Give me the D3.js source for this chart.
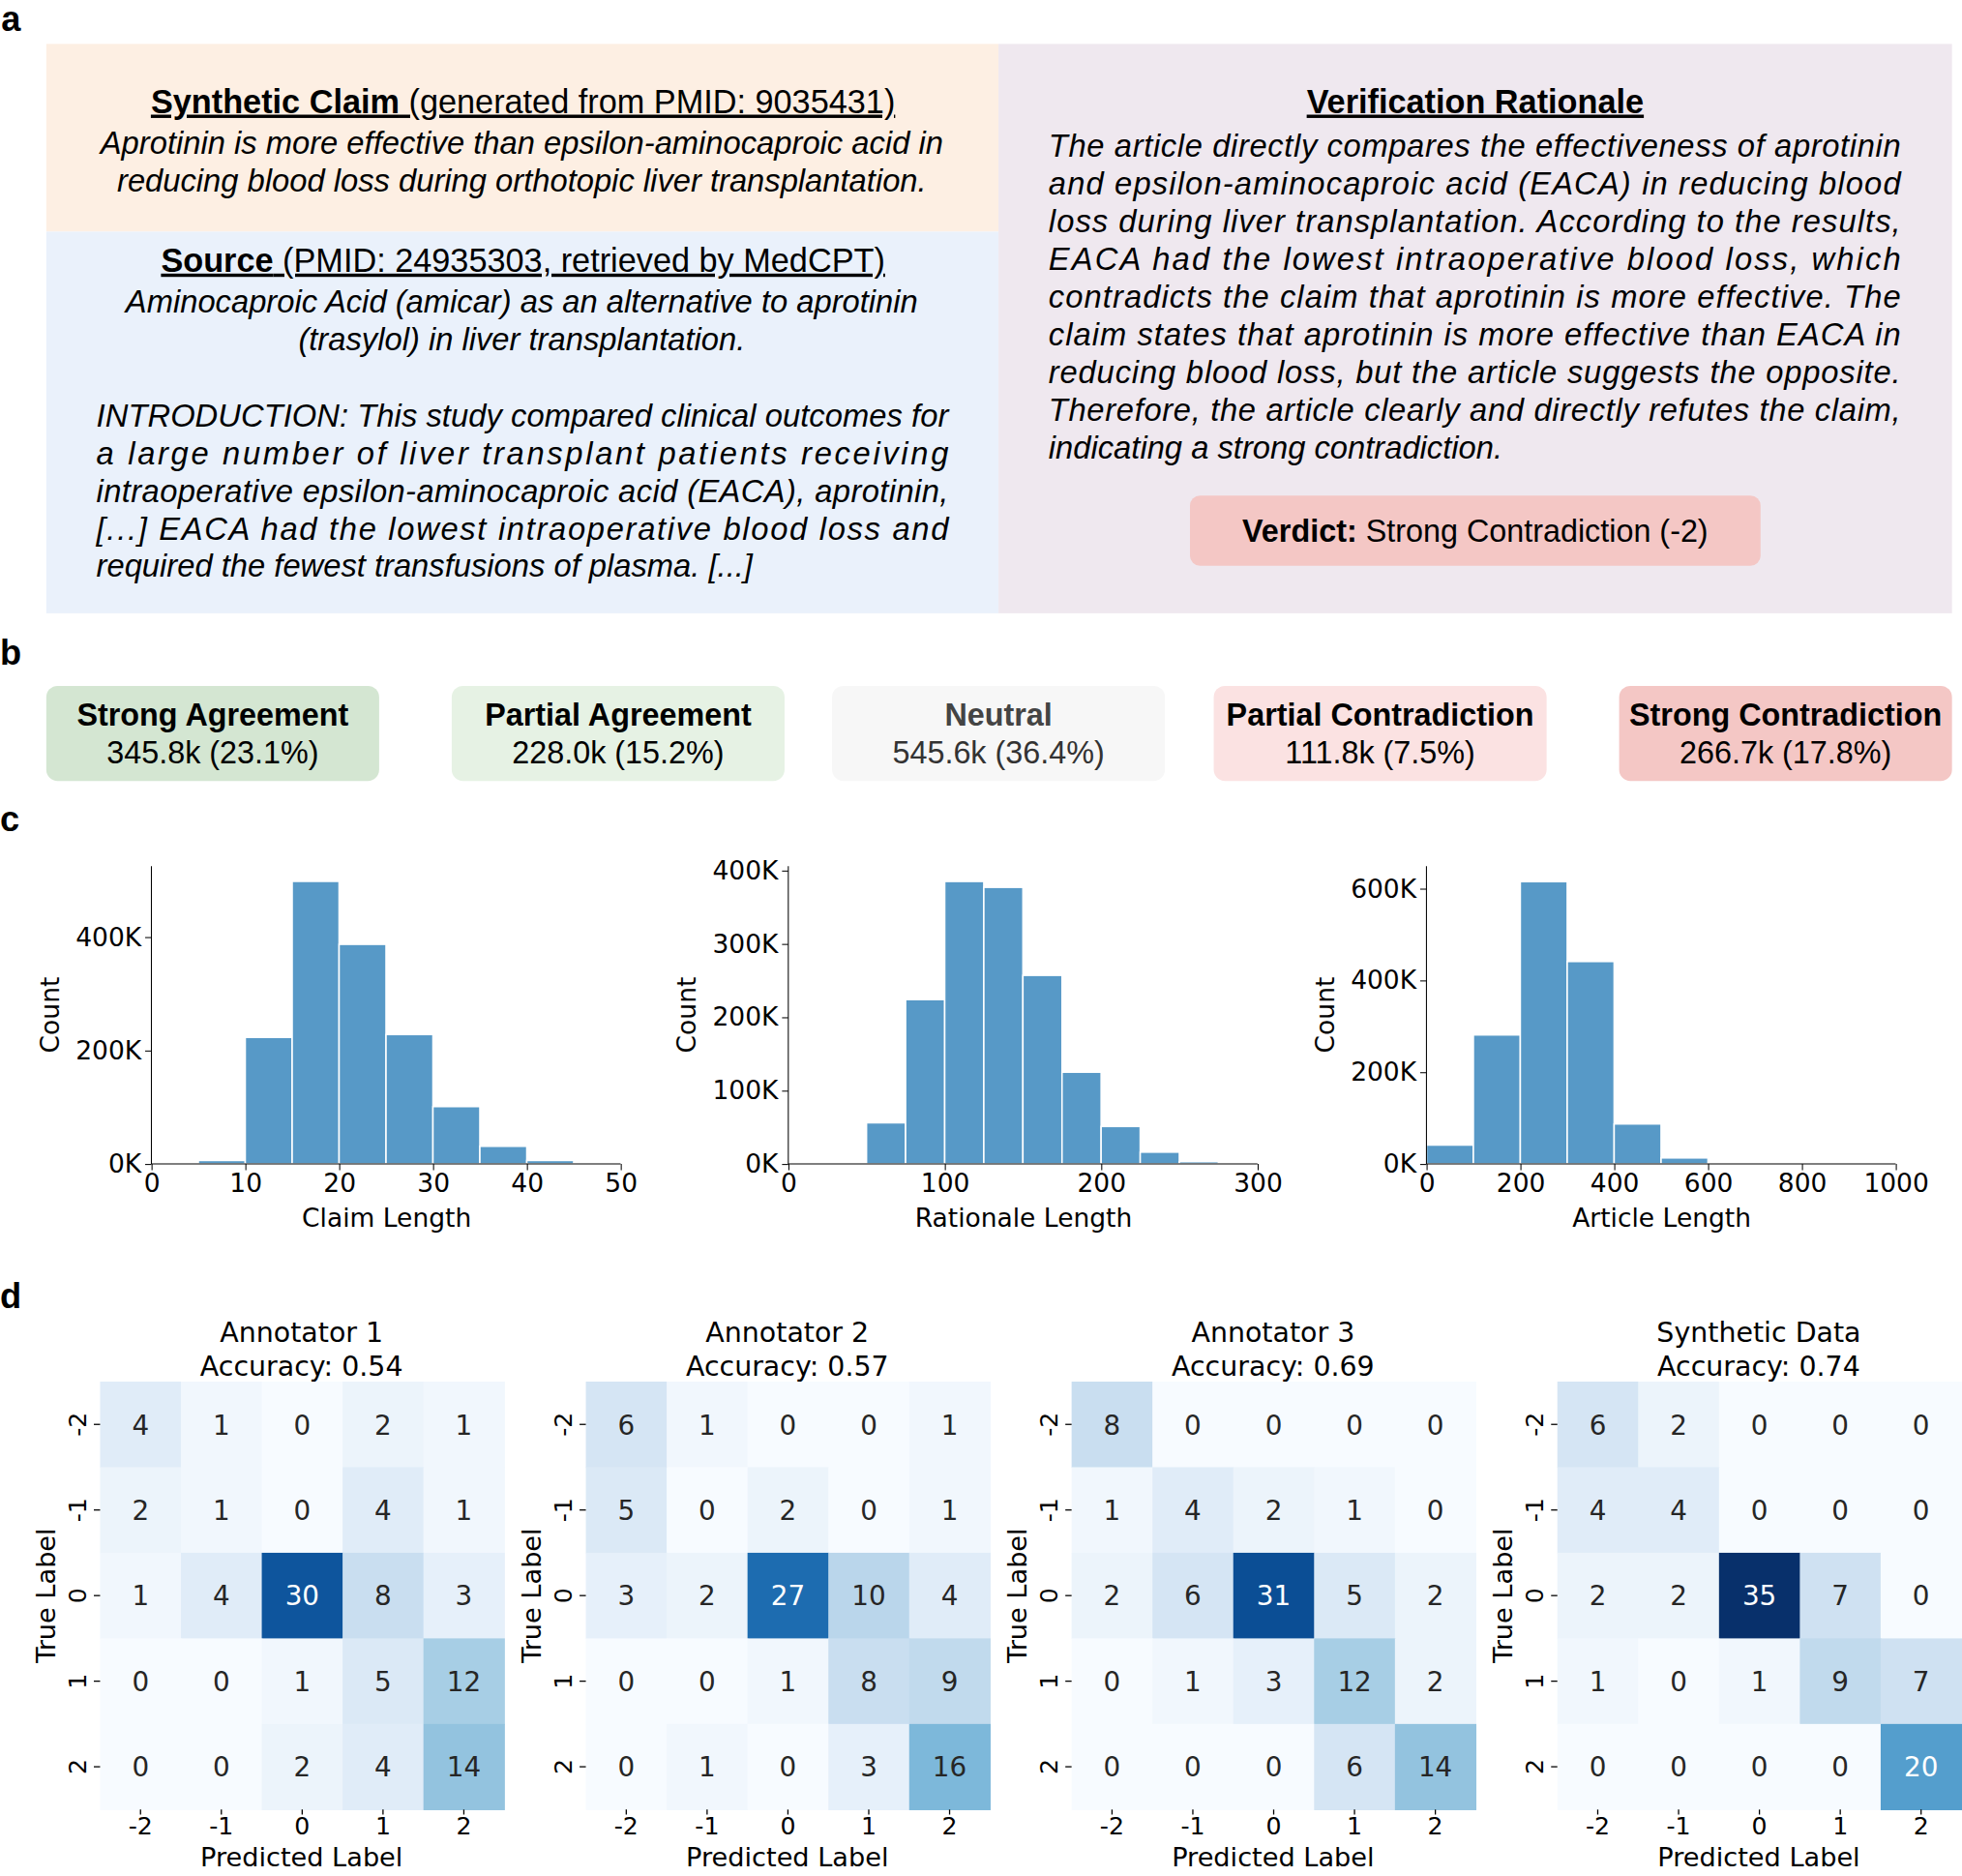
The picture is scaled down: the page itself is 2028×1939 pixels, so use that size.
<!DOCTYPE html>
<html><head><meta charset="utf-8">
<script src="https://cdn.jsdelivr.net/npm/d3@7"></script>
<style>body{margin:0;background:#fff}</style></head>
<body><svg id="c" width="2028" height="1939" viewBox="0 0 1568 1499"></svg>
<script>
// ---- data ----
const claimLines = ["Aprotinin is more effective than epsilon-aminocaproic acid in","reducing blood loss during orthotopic liver transplantation."];
const sourceLines = ["Aminocaproic Acid (amicar) as an alternative to aprotinin","(trasylol) in liver transplantation."];
const introLines = ["INTRODUCTION: This study compared clinical outcomes for","a large number of liver transplant patients receiving","intraoperative epsilon-aminocaproic acid (EACA), aprotinin,","[...] EACA had the lowest intraoperative blood loss and","required the fewest transfusions of plasma. [...]"];
const rationaleLines = ["The article directly compares the effectiveness of aprotinin","and epsilon-aminocaproic acid (EACA) in reducing blood","loss during liver transplantation. According to the results,","EACA had the lowest intraoperative blood loss, which","contradicts the claim that aprotinin is more effective. The","claim states that aprotinin is more effective than EACA in","reducing blood loss, but the article suggests the opposite.","Therefore, the article clearly and directly refutes the claim,","indicating a strong contradiction."];
const verdictNames = ["Strong Agreement","Partial Agreement","Neutral","Partial Contradiction","Strong Contradiction"];
const verdictCounts = ["345.8k (23.1%)","228.0k (15.2%)","545.6k (36.4%)","111.8k (7.5%)","266.7k (17.8%)"];
const verdictColors = ["#d4e6d2","#e6f2e4","#f7f7f7","#fbe2e2","#f4c7c5"];
const claimBins = [0,5,10,15,20,25,30,35,40,45,50];
const claimCounts = [0,6,223,498,387,228,101,31,6,1];
const ratBins = [0,25,50,75,100,125,150,175,200,225,250,275,300];
const ratCounts = [0,2,56,224,385,377,257,125,51,16,3,0.5];
const artBins = [0,100,200,300,400,500,600,700,800,900,1000];
const artCounts = [41,281,615,441,87,13,1,0.5,0.3,0.3];
const labels = ["-2","-1","0","1","2"];
const cmTitles = ["Annotator 1","Annotator 2","Annotator 3","Synthetic Data"];
const cmAcc = ["0.54","0.57","0.69","0.74"];
const cm1 = [[4,1,0,2,1],[2,1,0,4,1],[1,4,30,8,3],[0,0,1,5,12],[0,0,2,4,14]];
const cm2 = [[6,1,0,0,1],[5,0,2,0,1],[3,2,27,10,4],[0,0,1,8,9],[0,1,0,3,16]];
const cm3 = [[8,0,0,0,0],[1,4,2,1,0],[2,6,31,5,2],[0,1,3,12,2],[0,0,0,6,14]];
const cm4 = [[6,2,0,0,0],[4,4,0,0,0],[2,2,35,7,0],[1,0,1,9,7],[0,0,0,0,20]];

const svg = d3.select("#c");
const SANS = "'Liberation Sans', Arial, sans-serif";
const DJ = "'DejaVu Sans', sans-serif";
function lbl(t,x,y){svg.append("text").attr("x",x).attr("y",y).attr("font-family",SANS).attr("font-weight","bold").attr("font-size",28).text(t);}
lbl("a",1,25);lbl("b",0,531);lbl("c",0,664);lbl("d",0,1045);

// ---- panel a ----
svg.append("rect").attr("x",37).attr("y",35).attr("width",761).attr("height",150).attr("fill","#fdefe3");
svg.append("rect").attr("x",37).attr("y",185).attr("width",761).attr("height",305).attr("fill","#eaf1fb");
svg.append("rect").attr("x",798).attr("y",35).attr("width",762).attr("height",455).attr("fill","#efe8ef");
function head(cx,y,b,rest){
  const t=svg.append("text").attr("x",cx).attr("y",y).attr("text-anchor","middle").attr("font-family",SANS).attr("font-size",26.5).attr("text-decoration","underline");
  t.append("tspan").attr("font-weight","bold").text(b);
  if(rest) t.append("tspan").text(rest);
}
function lines(arr,x,y0,dy,opts){
  arr.forEach((s,i)=>{
    const t=svg.append("text").attr("y",y0+i*dy).attr("font-family",SANS).attr("font-size",25.3).attr("font-style","italic").text(s);
    if(opts.center){t.attr("x",x).attr("text-anchor","middle");}
    else{t.attr("x",x); if(i<arr.length-1) t.attr("textLength",opts.w).attr("lengthAdjust","spacing");}
  });
}
head(418,90,"Synthetic Claim"," (generated from PMID: 9035431)");
lines(claimLines,417,123,30,{center:true});
head(418,217,"Source"," (PMID: 24935303, retrieved by MedCPT)");
lines(sourceLines,417,250,30,{center:true});
lines(introLines,77,341,30,{w:681});
head(1179,90,"Verification Rationale","");
lines(rationaleLines,838,125,30.2,{w:681});
svg.append("rect").attr("x",951).attr("y",396).attr("width",456).attr("height",56).attr("rx",8).attr("fill","#f4c7c5");
const vt=svg.append("text").attr("x",1179).attr("y",433).attr("text-anchor","middle").attr("font-family",SANS).attr("font-size",25);
vt.append("tspan").attr("font-weight","bold").text("Verdict:");vt.append("tspan").text(" Strong Contradiction (-2)");

// ---- panel b ----
const bx=[37,361,665,970,1294];
verdictNames.forEach((n,i)=>{
  svg.append("rect").attr("x",bx[i]).attr("y",548).attr("width",266).attr("height",76).attr("rx",9).attr("fill",verdictColors[i]);
  svg.append("text").attr("x",bx[i]+133).attr("y",580).attr("text-anchor","middle").attr("font-family",SANS).attr("font-weight","bold").attr("font-size",25).attr("fill",i==2?"#444":"#000").text(n);
  svg.append("text").attr("x",bx[i]+133).attr("y",610).attr("text-anchor","middle").attr("font-family",SANS).attr("font-size",25).attr("fill",i==2?"#333":"#000").text(verdictCounts[i]);
});

// ---- panel c ----
function hist(x0,bins,counts,ymax,yt,xt,xl){
  const x=d3.scaleLinear().domain([bins[0],bins[bins.length-1]]).range([x0,x0+375]);
  const y=d3.scaleLinear().domain([0,ymax]).range([930,692]);
  const g=svg.append("g");
  counts.forEach((c,i)=>{
    g.append("rect").attr("x",x(bins[i])).attr("width",x(bins[i+1])-x(bins[i])).attr("y",y(c)).attr("height",930-y(c)).attr("fill","#5799c7").attr("stroke","#fff").attr("stroke-width",1.2);
  });
  const ya=svg.append("g").attr("transform",`translate(${x0},0)`).call(d3.axisLeft(y).tickValues(yt).tickFormat(d=>d+"K").tickSize(5).tickPadding(3));
  const xa=svg.append("g").attr("transform","translate(0,930)").call(d3.axisBottom(x).tickValues(xt).tickFormat(d=>String(d)).tickSize(5).tickPadding(3));
  [ya,xa].forEach(a=>{a.selectAll("text").attr("font-family",DJ).attr("font-size",20.5).attr("fill","#000");a.selectAll("path,line").attr("stroke","#000").attr("stroke-width",0.8);});
  xa.select(".domain").attr("d",`M${x0},0H${x0+375}`);
  ya.select(".domain").attr("d",`M0,930V692`);
  svg.append("text").attr("transform",`translate(${x0-74},811) rotate(-90)`).attr("text-anchor","middle").attr("font-family",DJ).attr("font-size",20.5).text("Count");
  svg.append("text").attr("x",x0+188).attr("y",980).attr("text-anchor","middle").attr("font-family",DJ).attr("font-size",20.5).text(xl);
}
hist(121,claimBins,claimCounts,525,[0,200,400],[0,10,20,30,40,50],"Claim Length");
hist(630,ratBins,ratCounts,406,[0,100,200,300,400],[0,100,200,300],"Rationale Length");
hist(1140,artBins,artCounts,649,[0,200,400,600],[0,200,400,600,800,1000],"Article Length");

// ---- panel d ----
const color=d3.scaleSequential(d3.interpolateBlues).domain([0,35]);
const T=1104, B=1446;
[cm1,cm2,cm3,cm4].forEach((m,k)=>{
  const x0=80+k*388.2;
  const x=d3.scaleBand().domain(labels).range([x0,x0+323]);
  const y=d3.scaleBand().domain(labels).range([T,B]);
  m.forEach((row,i)=>row.forEach((v,j)=>{
    svg.append("rect").attr("x",x(labels[j])).attr("y",y(labels[i])).attr("width",x.bandwidth()+0.5).attr("height",y.bandwidth()+0.5).attr("fill",color(v));
    svg.append("text").attr("x",x(labels[j])+x.bandwidth()/2).attr("y",y(labels[i])+y.bandwidth()/2+8).attr("text-anchor","middle").attr("font-family",DJ).attr("font-size",21.5).attr("fill",v>17?"#fff":"#262626").text(v);
  }));
  const xa=svg.append("g").attr("transform",`translate(0,${B})`).call(d3.axisBottom(x).tickSize(4).tickPadding(2));
  const ya=svg.append("g").attr("transform",`translate(${x0},0)`).call(d3.axisLeft(y).tickSize(5).tickPadding(4));
  [xa,ya].forEach(a=>{a.select(".domain").remove();a.selectAll("line").attr("stroke","#000");a.selectAll("text").attr("font-family",DJ).attr("font-size",19.5).attr("fill","#000");});
  ya.selectAll(".tick text").each(function(){d3.select(this).attr("transform","translate(-18,0) rotate(-90)").attr("x",0).attr("y",0).attr("dy","0.35em").attr("text-anchor","middle");});
  svg.append("text").attr("transform",`translate(${x0-36},${(T+B)/2}) rotate(-90)`).attr("text-anchor","middle").attr("font-family",DJ).attr("font-size",21).text("True Label");
  svg.append("text").attr("x",x0+161).attr("y",1491).attr("text-anchor","middle").attr("font-family",DJ).attr("font-size",21).text("Predicted Label");
  svg.append("text").attr("x",x0+161).attr("y",1072).attr("text-anchor","middle").attr("font-family",DJ).attr("font-size",22).text(cmTitles[k]);
  svg.append("text").attr("x",x0+161).attr("y",1099).attr("text-anchor","middle").attr("font-family",DJ).attr("font-size",22).text("Accuracy: "+cmAcc[k]);
});
</script></body></html>
